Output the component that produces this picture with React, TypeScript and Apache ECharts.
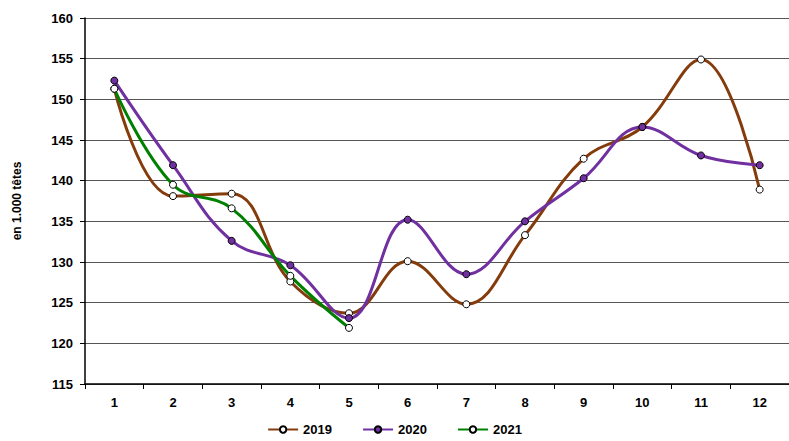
import { useEffect, useRef } from 'react';
import * as echarts from 'echarts';

const months = ['1', '2', '3', '4', '5', '6', '7', '8', '9', '10', '11', '12'];
const values2019 = [151.3, 138.1, 138.4, 127.6, 123.7, 130.1, 124.8, 133.3, 142.7, 146.6, 154.9, 138.9];
const values2020 = [152.3, 141.9, 132.6, 129.6, 123.1, 135.2, 128.5, 135.0, 140.3, 146.6, 143.1, 141.9];
const values2021 = [151.3, 139.5, 136.6, 128.3, 121.9];

const font = 'Arial, "Liberation Sans", sans-serif';

export default function App() {
  const chartRef = useRef<HTMLDivElement>(null);

  useEffect(() => {
    if (!chartRef.current) return;
    const instance = echarts.init(chartRef.current, undefined, { renderer: 'svg' });

    const line = (name: string, data: number[], color: string, fill: string) => ({
      name,
      type: 'line',
      data,
      smooth: 0.4,
      symbol: 'circle',
      symbolSize: 7,
      lineStyle: { color, width: 3 },
      itemStyle: { color: fill, borderColor: '#000', borderWidth: 1 },
    });

    instance.setOption({
      animation: false,
      textStyle: { fontFamily: font },
      grid: { left: 85, top: 18, width: 717, height: 366 },
      legend: {
        bottom: 0,
        left: 'center',
        itemWidth: 30,
        itemHeight: 8,
        itemGap: 30,
        textStyle: { fontWeight: 'bold', fontSize: 13, color: '#000', fontFamily: font },
        data: [
          { name: '2019', itemStyle: { color: '#fff', borderColor: '#000' } },
          { name: '2020', itemStyle: { color: '#7030a0', borderColor: '#000' } },
          { name: '2021', itemStyle: { color: '#fff', borderColor: '#000' } },
        ],
      },
      xAxis: {
        type: 'category',
        data: months,
        boundaryGap: true,
        axisLine: { lineStyle: { color: '#000', width: 1.5 } },
        axisTick: { show: true, lineStyle: { color: '#000' } },
        axisLabel: { fontWeight: 'bold', fontSize: 13, color: '#000', margin: 12 },
      },
      yAxis: {
        type: 'value',
        min: 115,
        max: 160,
        interval: 5,
        name: 'en 1.000 têtes',
        nameLocation: 'middle',
        nameGap: 62,
        nameTextStyle: { fontWeight: 'bold', fontSize: 12, color: '#000' },
        axisLine: { show: true, lineStyle: { color: '#000', width: 1.5 } },
        axisTick: { show: true, lineStyle: { color: '#000' } },
        axisLabel: { fontWeight: 'bold', fontSize: 13, color: '#000', margin: 12 },
        splitLine: { lineStyle: { color: '#555', width: 1 } },
      },
      series: [
        line('2019', values2019, '#843c0c', '#fff'),
        line('2020', values2020, '#7030a0', '#7030a0'),
        line('2021', values2021, '#008000', '#fff'),
      ],
    });

    return () => instance.dispose();
  }, []);

  return (
    <div
      ref={chartRef}
      style={{ position: 'fixed', left: 0, top: 0, width: 789, height: 441, background: '#fff' }}
    />
  );
}
